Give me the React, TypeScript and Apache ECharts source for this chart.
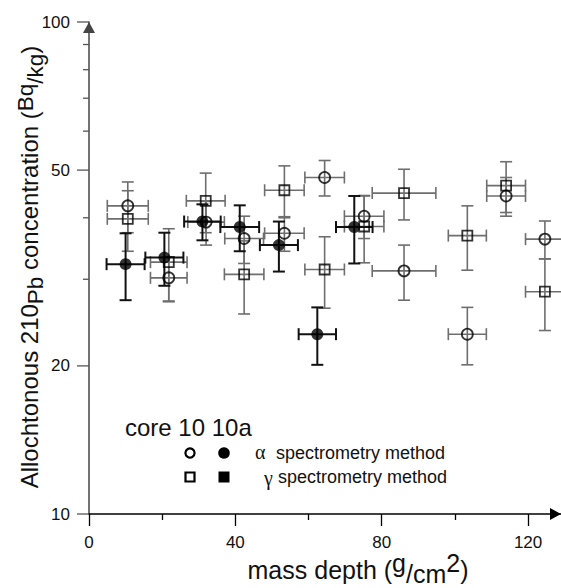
import React, { useEffect, useRef } from 'react';
import * as echarts from 'echarts';

// ---- axis ticks / labels ----
const xTicksMajor = [0, 40, 80, 120];
const xTicksMinor = [20, 60, 100];
const yTicksMajor = [10, 20, 50, 100];
const yTickLabels = ['10', '20', '50', '100'];
const yTicksMinor = [30, 40, 60, 70, 80, 90];

// ---- α spectrometry, open circles ----
const alphaOpenX = [10.6, 21.8, 32.0, 42.4, 53.4, 64.4, 75.2, 86.1, 103.4, 114.0, 124.6];
const alphaOpenY = [42.3, 30.2, 39.2, 36.3, 37.2, 48.3, 40.3, 31.2, 23.2, 44.3, 36.2];
const alphaOpenXErr = [5.6, 5.0, 5.0, 5.3, 5.4, 5.4, 5.4, 8.7, 5.2, 5.3, 5.3];
const alphaOpenYErr = [5.0, 3.1, 4.0, 4.0, 3.0, 4.0, 4.0, 4.0, 3.1, 4.0, 3.2];

// ---- α spectrometry, filled circles ----
const alphaFilledX = [10.0, 20.6, 31.0, 41.2, 51.9, 62.4, 72.5];
const alphaFilledY = [32.2, 33.2, 39.3, 38.3, 35.2, 23.2, 38.3];
const alphaFilledXErr = [5.2, 5.2, 5.0, 5.3, 5.2, 5.1, 5.0];
const alphaFilledYErr = [5.0, 4.1, 3.3, 4.1, 4.1, 3.1, 6.0];

// ---- γ spectrometry, open squares ----
const gammaOpenX = [10.6, 21.8, 31.9, 42.4, 53.4, 64.4, 75.2, 86.1, 103.4, 114.0, 124.6];
const gammaOpenY = [39.8, 32.5, 43.3, 30.7, 45.5, 31.4, 38.4, 44.9, 36.8, 46.5, 28.3];
const gammaOpenXErr = [5.6, 5.0, 5.3, 5.4, 5.4, 5.4, 5.4, 8.7, 5.2, 5.3, 5.3];
const gammaOpenYErr = [5.6, 5.5, 6.0, 5.2, 5.5, 5.2, 6.0, 5.3, 5.5, 5.5, 4.7];

const FONT = "'Liberation Sans', Arial, Helvetica, sans-serif";
const SERIF = "'Liberation Serif', 'Times New Roman', serif";

function rows(xs: number[], ys: number[], xe: number[], ye: number[]) {
  return xs.map((x, i) => [x, ys[i], xe[i], ye[i]]);
}

function makeErrorRender(color: string, lw: number, cap: number) {
  return (_params: any, api: any) => {
    const x = api.value(0);
    const y = api.value(1);
    const dx = api.value(2);
    const dy = api.value(3);
    const l = api.coord([x - dx, y]);
    const r = api.coord([x + dx, y]);
    const t = api.coord([x, y + dy]);
    const b = api.coord([x, y - dy]);
    const style = { stroke: color, lineWidth: lw };
    const seg = (x1: number, y1: number, x2: number, y2: number) => ({
      type: 'line',
      shape: { x1, y1, x2, y2 },
      style,
    });
    return {
      type: 'group',
      children: [
        seg(l[0], l[1], r[0], r[1]),
        seg(t[0], t[1], b[0], b[1]),
        seg(l[0], l[1] - cap, l[0], l[1] + cap),
        seg(r[0], r[1] - cap, r[0], r[1] + cap),
        seg(t[0] - cap, t[1], t[0] + cap, t[1]),
        seg(b[0] - cap, b[1], b[0] + cap, b[1]),
      ],
    };
  };
}

function makeYTickRender(major: boolean) {
  return (params: any, api: any) => {
    const v = api.value(1);
    const p = api.coord([0, v]);
    const len = major ? 12 : 6;
    const children: any[] = [
      {
        type: 'line',
        shape: { x1: p[0] - len, y1: p[1], x2: p[0], y2: p[1] },
        style: { stroke: '#555', lineWidth: 1.3 },
      },
    ];
    if (major) {
      children.push({
        type: 'text',
        x: p[0] - 19,
        y: p[1],
        style: {
          text: yTickLabels[params.dataIndex],
          align: 'right',
          verticalAlign: 'middle',
          fontSize: 17,
          fontFamily: FONT,
          fill: '#111',
          legacy: false,
        },
      });
    }
    return { type: 'group', children };
  };
}

export default function App() {
  const ref = useRef<HTMLDivElement>(null);

  useEffect(() => {
    if (!ref.current) return;
    const chart = echarts.init(ref.current, undefined, { renderer: 'svg' });

    const xTitleRich = {
      n: { fontSize: 25, fontFamily: FONT, fill: '#111', lineHeight: 40, verticalAlign: 'middle' },
      sp: { fontSize: 25, fontFamily: FONT, fill: '#111', lineHeight: 26, height: 26, verticalAlign: 'top' },
      sb: { fontSize: 25, fontFamily: FONT, fill: '#111', lineHeight: 32, height: 32, verticalAlign: 'bottom' },
    };
    const yTitleRich = {
      n: { fontSize: 24, fontFamily: FONT, fill: '#111', lineHeight: 40, verticalAlign: 'middle' },
      sp: { fontSize: 22.5, fontFamily: FONT, fill: '#111', lineHeight: 32, height: 32, verticalAlign: 'top' },
      sb: { fontSize: 22.5, fontFamily: FONT, fill: '#111', lineHeight: 28, height: 28, verticalAlign: 'bottom' },
    };

    const option: any = {
      animation: false,
      backgroundColor: '#fff',
      grid: { left: 89, top: 22, width: 476.3, height: 492, containLabel: false },
      xAxis: [
        {
          type: 'value',
          min: 0,
          max: 129,
          position: 'bottom',
          splitLine: { show: false },
          axisLine: {
            show: true,
            onZero: false,
            lineStyle: { color: '#000', width: 1.5 },
            symbol: ['none', 'triangle'],
            symbolSize: [12, 11],
            symbolOffset: [0, -5.5],
          },
          axisTick: {
            show: true,
            inside: false,
            length: 12,
            customValues: xTicksMajor,
            lineStyle: { color: '#000', width: 1.3 },
          },
          axisLabel: {
            show: true,
            customValues: xTicksMajor,
            margin: 20,
            fontSize: 17,
            fontFamily: FONT,
            color: '#111',
          },
        },
        {
          type: 'value',
          min: 0,
          max: 129,
          position: 'bottom',
          splitLine: { show: false },
          axisLine: { show: false, onZero: false },
          axisTick: {
            show: true,
            inside: false,
            length: 6,
            customValues: xTicksMinor,
            lineStyle: { color: '#000', width: 1.3 },
          },
          axisLabel: { show: false },
        },
      ],
      yAxis: {
        type: 'log',
        logBase: 10,
        min: 10,
        max: 100,
        splitLine: { show: false },
        axisLine: {
          show: true,
          onZero: false,
          lineStyle: { color: '#444', width: 1.5 },
          symbol: ['none', 'triangle'],
          symbolSize: [12, 11],
          symbolOffset: [0, -5.5],
        },
        axisTick: { show: false },
        axisLabel: { show: false },
      },
      graphic: [
        {
          type: 'text',
          x: 358,
          y: 570,
          style: {
            text: '{n|mass depth (}{sp|g}{sb|/cm}{sp|2}{n|)}',
            rich: xTitleRich,
            align: 'center',
            verticalAlign: 'middle',
            legacy: false,
          },
        },
        {
          type: 'text',
          x: 29,
          y: 267,
          rotation: Math.PI / 2,
          style: {
            text: '{n|Allochtonous 210}{sb|Pb}{n| concentration (}{sp|Bq}{sb|/kg}{n|)}',
            rich: yTitleRich,
            align: 'center',
            verticalAlign: 'middle',
            legacy: false,
          },
        },
        {
          type: 'text',
          x: 125,
          y: 427,
          style: {
            text: 'core 10 10a',
            fontSize: 24,
            fontFamily: FONT,
            fill: '#111',
            align: 'left',
            verticalAlign: 'middle',
            legacy: false,
          },
        },
        { type: 'circle', shape: { cx: 190, cy: 453, r: 4.6 }, style: { fill: '#fff', stroke: '#000', lineWidth: 2.2 } },
        { type: 'circle', shape: { cx: 224, cy: 453, r: 5.8 }, style: { fill: '#000', stroke: '#000', lineWidth: 0 } },
        { type: 'rect', shape: { x: 185.5, y: 472.5, width: 9, height: 9 }, style: { fill: '#fff', stroke: '#000', lineWidth: 2.2 } },
        { type: 'rect', shape: { x: 218.5, y: 471.5, width: 11, height: 11 }, style: { fill: '#000', stroke: '#000', lineWidth: 0 } },
        {
          type: 'text',
          x: 255,
          y: 452,
          style: { text: 'α', fontSize: 20, fontFamily: SERIF, fill: '#111', align: 'left', verticalAlign: 'middle', legacy: false },
        },
        {
          type: 'text',
          x: 276,
          y: 453,
          style: { text: 'spectrometry method', fontSize: 18, fontFamily: FONT, fill: '#111', align: 'left', verticalAlign: 'middle', legacy: false },
        },
        {
          type: 'text',
          x: 264,
          y: 478,
          style: { text: 'γ', fontSize: 20, fontFamily: SERIF, fill: '#111', align: 'left', verticalAlign: 'middle', legacy: false },
        },
        {
          type: 'text',
          x: 278,
          y: 477,
          style: { text: 'spectrometry method', fontSize: 18, fontFamily: FONT, fill: '#111', align: 'left', verticalAlign: 'middle', legacy: false },
        },
      ],
      series: [
        {
          type: 'custom',
          name: 'y major ticks',
          coordinateSystem: 'cartesian2d',
          renderItem: makeYTickRender(true),
          data: yTicksMajor.map((v) => [0, v]),
          encode: { x: 0, y: 1 },
          clip: false,
          silent: true,
          z: 1,
        },
        {
          type: 'custom',
          name: 'y minor ticks',
          coordinateSystem: 'cartesian2d',
          renderItem: makeYTickRender(false),
          data: yTicksMinor.map((v) => [0, v]),
          encode: { x: 0, y: 1 },
          clip: false,
          silent: true,
          z: 1,
        },
        {
          type: 'custom',
          name: 'γ open error',
          renderItem: makeErrorRender('#6e6e6e', 1.6, 6),
          data: rows(gammaOpenX, gammaOpenY, gammaOpenXErr, gammaOpenYErr),
          encode: { x: 0, y: 1 },
          clip: false,
          silent: true,
          z: 2,
        },
        {
          type: 'custom',
          name: 'α open error',
          renderItem: makeErrorRender('#6e6e6e', 1.6, 6),
          data: rows(alphaOpenX, alphaOpenY, alphaOpenXErr, alphaOpenYErr),
          encode: { x: 0, y: 1 },
          clip: false,
          silent: true,
          z: 2,
        },
        {
          type: 'custom',
          name: 'α filled error',
          renderItem: makeErrorRender('#111', 2, 6),
          data: rows(alphaFilledX, alphaFilledY, alphaFilledXErr, alphaFilledYErr),
          encode: { x: 0, y: 1 },
          clip: false,
          silent: true,
          z: 3,
        },
        {
          type: 'scatter',
          name: 'γ open',
          symbol: 'rect',
          symbolSize: 10,
          data: gammaOpenX.map((x, i) => [x, gammaOpenY[i]]),
          itemStyle: { color: 'rgba(255,255,255,0)', borderColor: '#000', borderWidth: 1.8 },
          z: 4,
          silent: true,
        },
        {
          type: 'scatter',
          name: 'α open',
          symbol: 'circle',
          symbolSize: 11,
          data: alphaOpenX.map((x, i) => [x, alphaOpenY[i]]),
          itemStyle: { color: 'rgba(255,255,255,0)', borderColor: '#000', borderWidth: 1.8 },
          z: 4,
          silent: true,
        },
        {
          type: 'scatter',
          name: 'α filled',
          symbol: 'circle',
          symbolSize: 12,
          data: alphaFilledX.map((x, i) => [x, alphaFilledY[i]]),
          itemStyle: { color: '#000', borderColor: '#000', borderWidth: 0 },
          z: 5,
          silent: true,
        },
      ],
    };

    chart.setOption(option);
    return () => {
      chart.dispose();
    };
  }, []);

  return (
    <div
      ref={ref}
      style={{ position: 'absolute', left: 0, top: 0, width: 561, height: 588, background: '#fff' }}
    />
  );
}
